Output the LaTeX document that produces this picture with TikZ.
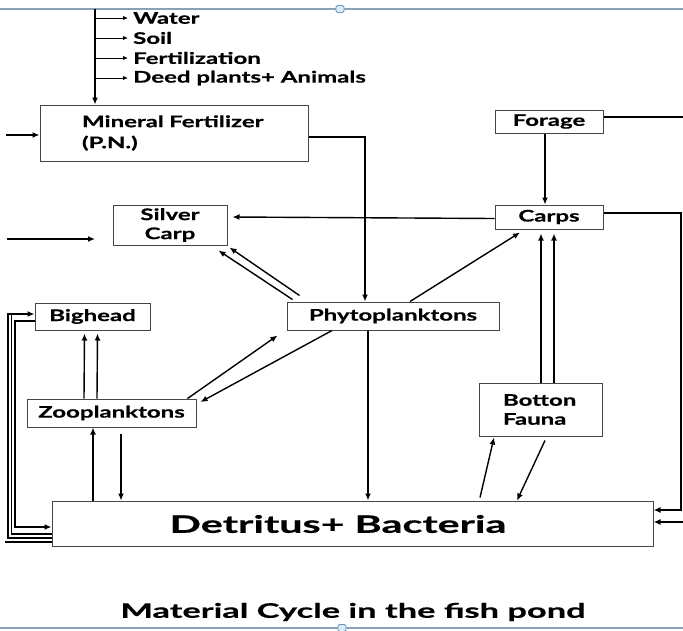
\documentclass[tikz,border=0pt]{standalone}
\usepackage{fontspec}
\setmainfont{Lato}
\newfontfamily\gill{Lato}[FakeStretch=1.5,FakeBold=0.6]
\newfontfamily\gillbig{Lato}[FakeStretch=1.72,FakeBold=0.6]
\usetikzlibrary{arrows.meta,calc}
\definecolor{framec}{RGB}{140,160,185}
\definecolor{handlef}{RGB}{215,238,248}
\definecolor{handled}{RGB}{110,150,190}
\definecolor{boxc}{RGB}{70,70,70}
\tikzset{
  lbl/.style={font=\gill\bfseries\fontsize{16}{19}\selectfont, inner sep=0pt},
  box/.style={draw=boxc, line width=1pt, inner sep=0pt, font=\gill\bfseries\fontsize{16}{19}\selectfont, align=center},
  arr/.style={draw=black, line width=1.4pt, -{Latex[length=7pt,width=6pt]}},
  ln/.style={draw=black, line width=1.4pt},
  frameline/.style={draw=framec, line width=1.2pt},
  handle/.style={draw=handled, fill=handlef, line width=0.8pt, rounded corners=1.5pt, minimum width=8pt, minimum height=7pt, inner sep=0pt}
}
\begin{document}
\begin{tikzpicture}[x=1pt,y=-1pt]
\useasboundingbox (0,0) rectangle (683,630);
% slide frame lines
\coordinate (ftl) at (0,9); \coordinate (ftr) at (683,9);
\coordinate (fbl) at (0,628); \coordinate (fbr) at (683,628);
\draw[frameline] (ftl) -- (ftr);
\draw[frameline] (fbl) -- (fbr);
\node[handle] (h1) at (340,9) {};
\node[handle] (h2) at (342,628) {};

% boxes
\node[box, minimum width=268pt, minimum height=56pt, text width=184pt, inner xsep=42pt, align=left] (mf) at (174,133) {Mineral Fertilizer\\[2pt](P.N.)};
\node[box, minimum width=108pt, minimum height=23pt] (forage) at (549,121.5) {Forage};
\node[box, minimum width=108pt, minimum height=24pt] (carps) at (549,217) {Carps};
\node[box, minimum width=114pt, minimum height=40pt] (silver) at (170,225) {Silver\\Carp};
\node[box, minimum width=115pt, minimum height=27pt] (bighead) at (92.5,316.5) {Bighead};
\node[box, minimum width=212pt, minimum height=28pt] (phyto) at (393,316) {Phytoplanktons};
\node[box, minimum width=169pt, minimum height=28pt] (zoo) at (111.5,413) {Zooplanktons};
\node[box, minimum width=123pt, minimum height=53pt, text width=75pt, inner xsep=24pt, align=left] (fauna) at (540.5,409.5) {Botton\\Fauna};
\node[box, minimum width=601pt, minimum height=45pt] (detr) at (352.5,523.5) {};
\node[inner sep=0pt, font=\gillbig\bfseries\fontsize{24}{28}\selectfont] (detrtext) at (338,524) {Detritus+ Bacteria};
\node[inner sep=0pt, font=\gillbig\bfseries\fontsize{20}{24}\selectfont] (title) at (353,612) {Material Cycle in the fish pond};

% inputs at top
\node[lbl, anchor=west] (water) at (133,18) {Water};
\node[lbl, anchor=west] (soil) at (133,38) {Soil};
\node[lbl, anchor=west] (fert) at (133,58) {Fertilization};
\node[lbl, anchor=west] (deed) at (133,78) {Deed plants+ Animals};
\coordinate (topv) at (95,9);
\draw[arr] (topv) -- (topv |- mf.north);
\foreach \n in {water,soil,fert,deed}{
  \draw[arr, line width=1pt, -{Latex[length=5pt,width=4.5pt]}] (topv |- \n.west) -- ([xshift=-5pt]\n.west);
}
\coordinate (mfin) at (6,135);
\draw[arr] (mfin) -- (mfin -| mf.west);
\draw[arr] ([yshift=-4pt]mf.east) -| ([xshift=-28pt]phyto.north);

% forage and carps
\coordinate (fr) at (683,117);
\draw[ln] (forage.east |- fr) -- (fr);
\draw[arr] ([xshift=-4pt]forage.south) -- ([xshift=-4pt]carps.north);
\draw[arr] ([yshift=-1.5pt]carps.west) -- ([xshift=5pt]carps.west -| silver.east);
\coordinate (sl1) at (7,239); \coordinate (sl2) at (95,239);
\draw[arr] (sl1) -- (sl2);

% phyto to silver carp
\draw[arr] ([shift={(6,-2)}]phyto.north west) -- ([shift={(-9,5)}]silver.south east);
\draw[arr] ([shift={(13,-6)}]phyto.north west) -- ([shift={(2,2)}]silver.south east);
% phyto to carps
\draw[arr] ([xshift=17pt]phyto.north) -- ([shift={(-29,3)}]carps.south);
% phyto to detritus
\draw[arr] ([xshift=-25pt]phyto.south) -- ([xshift=-25pt]phyto.south |- detr.north);
% zoo <-> phyto
\draw[arr] ([xshift=-9pt]zoo.north east) -- ([shift={(-9,5)}]phyto.south west);
\draw[arr] ([xshift=-61pt]phyto.south) -- ([shift={(4,-11)}]zoo.east);
% zoo to bighead
\draw[arr] ([xshift=-27.5pt]zoo.north) -- ([shift={(-8,3)}]bighead.south);
\draw[arr] ([xshift=-14.5pt]zoo.north) -- ([shift={(5,3)}]bighead.south);
% detritus <-> zoo
\draw[arr] ([xshift=-18.5pt]zoo.south |- detr.north) -- ([xshift=-18.5pt]zoo.south);
\draw[arr] ([shift={(9.5,6)}]zoo.south) -- ([xshift=9.5pt]zoo.south |- detr.north);
% fauna to carps
\draw[arr] ([xshift=0.5pt]fauna.north) -- ([shift={(-8,4)}]carps.south);
\draw[arr] ([xshift=13.5pt]fauna.north) -- ([shift={(5,4)}]carps.south);
% detritus <-> fauna
\draw[arr] ([shift={(127.5,-3)}]detr.north) -- ([shift={(-46.5,1)}]fauna.south);
\draw[arr] ([shift={(4.5,4)}]fauna.south) -- ([xshift=164.5pt]detr.north);
% right side
\coordinate (rc) at (681,213);
\draw[arr] (carps.east |- rc) -- (rc) |- ([yshift=13.5pt]detr.east);
\coordinate (rin) at (683,522);
\draw[arr] (rin) -- (rin -| detr.east);
% left side loops
\coordinate (lo) at (8,314);
\coordinate (lm) at (11.5,314);
\coordinate (li) at (15,321);
\draw[arr] ([yshift=-14.5pt]detr.west) -| (lo) -- (lo -| bighead.west);
\draw[ln] ([yshift=-10.5pt]detr.west) -| (lm);
\draw[arr] (li -| bighead.west) -- (li) |- ([yshift=-3.5pt]detr.west);
\coordinate (lb) at (5,542);
\draw[ln] (lb) -- (lb -| detr.west);
\end{tikzpicture}
\end{document}
